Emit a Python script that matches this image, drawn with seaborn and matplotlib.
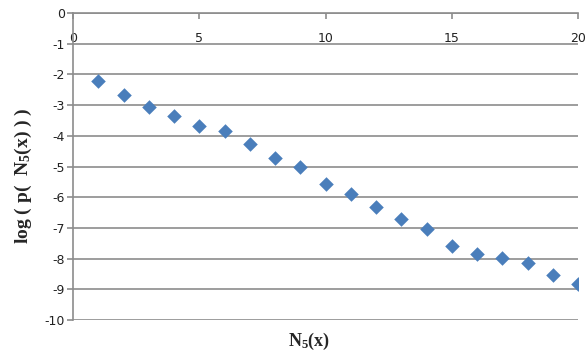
import matplotlib
matplotlib.use("Agg")
import matplotlib.pyplot as plt
import seaborn as sns
import pandas as pd

n5 = list(range(1, 21))
log_p = [-2.20, -2.67, -3.06, -3.36, -3.68, -3.85, -4.27, -4.72, -5.02, -5.57,
         -5.90, -6.32, -6.71, -7.04, -7.59, -7.85, -7.98, -8.14, -8.53, -8.83]
x_ticks = [0, 5, 10, 15, 20]
y_ticks = list(range(-10, 1))

sns.set_style("white")
plt.rcParams['font.family'] = ['DejaVu Sans']
plt.rcParams['mathtext.fontset'] = 'custom'
plt.rcParams['mathtext.rm'] = 'Liberation Serif:bold'
plt.rcParams['mathtext.it'] = 'Liberation Serif:bold'
plt.rcParams['mathtext.bf'] = 'Liberation Serif:bold'

df = pd.DataFrame({"n5": n5, "logp": log_p})

fig = plt.figure(figsize=(5.85, 3.56), dpi=100)
ax = fig.add_axes([73/585, 1-320/356, (578-73)/585, (320-13)/356])

grid_c = "#8c8c8c"
for yv in y_ticks:
    ax.axhline(yv, color=grid_c, lw=1.2, zorder=0)

sns.scatterplot(data=df, x="n5", y="logp", marker="D", s=55, color="#4a7ebb",
                edgecolor="#4a7ebb", linewidth=0, ax=ax, zorder=3)

ax.set_xlim(0, 20)
ax.set_ylim(-10, 0)
ax.set_xticks(x_ticks)
ax.set_yticks(y_ticks)
ax.set_xticklabels([str(v) for v in x_ticks])
ax.set_yticklabels([str(v) for v in y_ticks])

for s in ["bottom", "right"]:
    ax.spines[s].set_visible(False)
for s in ["top", "left"]:
    ax.spines[s].set_color(grid_c)
    ax.spines[s].set_linewidth(1.2)

ax.tick_params(axis='x', top=True, labeltop=True, bottom=False, labelbottom=False,
               direction='in', length=4, width=1.2, color=grid_c, pad=-23,
               labelsize=9, labelcolor="#222222")
ax.tick_params(axis='y', left=True, direction='out', length=4, width=1.2,
               color=grid_c, pad=2, labelsize=9, labelcolor="#222222")

ax.set_xlabel("")
ax.set_ylabel("")
fig.text(309/585, 1-341/356, r"N$_{5}$(x)", ha="center", va="center",
         fontsize=13, family="Liberation Serif", weight="bold")
fig.text(23/585, 1-176/356, r"log ( p(  N$_{5}$(x) ) )", ha="center", va="center",
         rotation=90, fontsize=14, family="Liberation Serif", weight="bold")

fig.savefig("out.png", dpi=100)
